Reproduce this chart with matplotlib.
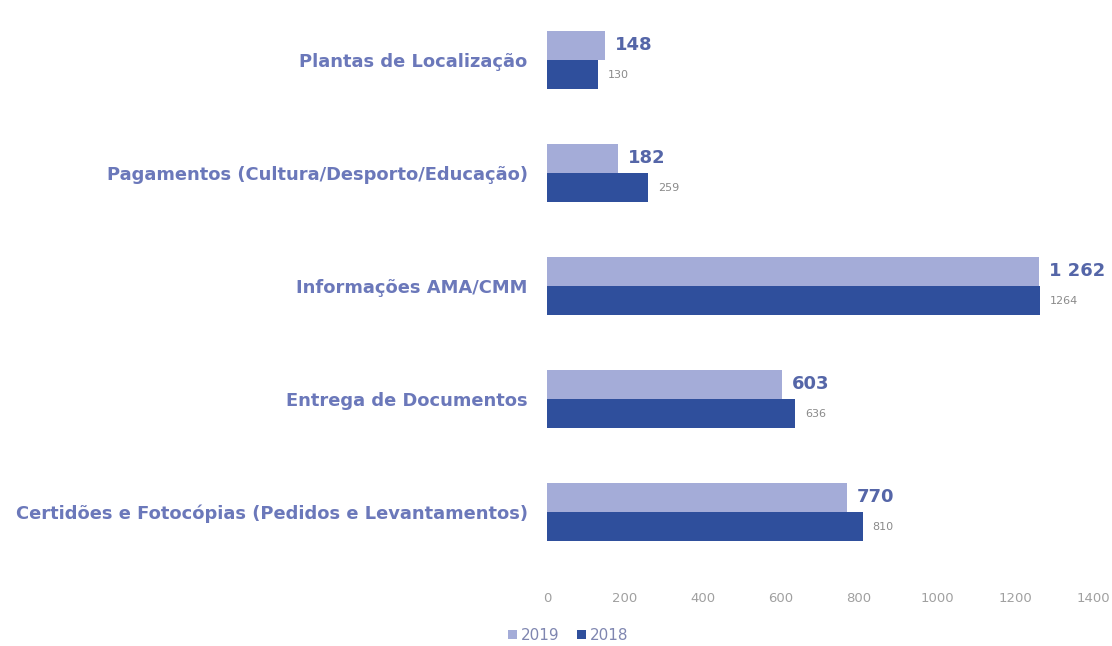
import numpy as np
import matplotlib.pyplot as plt

categories = [
    "Plantas de Localização",
    "Pagamentos (Cultura/Desporto/Educação)",
    "Informações AMA/CMM",
    "Entrega de Documentos",
    "Certidões e Fotocópias (Pedidos e Levantamentos)",
]
values_2019 = [148, 182, 1262, 603, 770]
values_2018 = [130, 259, 1264, 636, 810]
labels_2019 = ["148", "182", "1 262", "603", "770"]
labels_2018 = ["130", "259", "1264", "636", "810"]
xticks = [0, 200, 400, 600, 800, 1000, 1200, 1400]

color_2019 = "#a4acd8"
color_2018 = "#2f4f9c"
label_color = "#6b78ba"
tick_color = "#a0a0a0"

fig = plt.figure(figsize=(11.12, 6.46), dpi=100)
ax = fig.add_axes([0.492, 0.12, 0.491, 0.8746])

y = np.arange(len(categories))
h = 0.26
ax.barh(y - h / 2, values_2019, height=h, color=color_2019, label="2019")
ax.barh(y + h / 2, values_2018, height=h, color=color_2018, label="2018")

for i in range(len(categories)):
    ax.text(values_2019[i] + 25, y[i] - h / 2, labels_2019[i], va="center", ha="left",
            fontsize=13, fontweight="bold", color="#5566a8")
    ax.text(values_2018[i] + 25, y[i] + h / 2, labels_2018[i], va="center", ha="left",
            fontsize=8, color="#8a8a8a")

ax.set_xlim(0, 1400)
ax.set_ylim(len(categories) - 0.5, -0.5)
ax.set_yticks(y)
ax.set_yticklabels(categories, fontsize=12.9, fontweight="bold", color=label_color)
ax.set_xticks(xticks)
ax.set_xticklabels([str(t) for t in xticks], fontsize=9.5, color=tick_color)
ax.tick_params(axis="both", length=0)
ax.tick_params(axis="y", pad=14)
ax.tick_params(axis="x", pad=17)
for s in ax.spines.values():
    s.set_visible(False)

leg = fig.legend(loc="center", bbox_to_anchor=(0.511, 0.016), ncol=2, frameon=False,
                 fontsize=11, handlelength=0.55, handleheight=0.55, handletextpad=0.25,
                 columnspacing=1.2)
for t in leg.get_texts():
    t.set_color("#7f86b0")

fig.savefig("out.png", dpi=100)
